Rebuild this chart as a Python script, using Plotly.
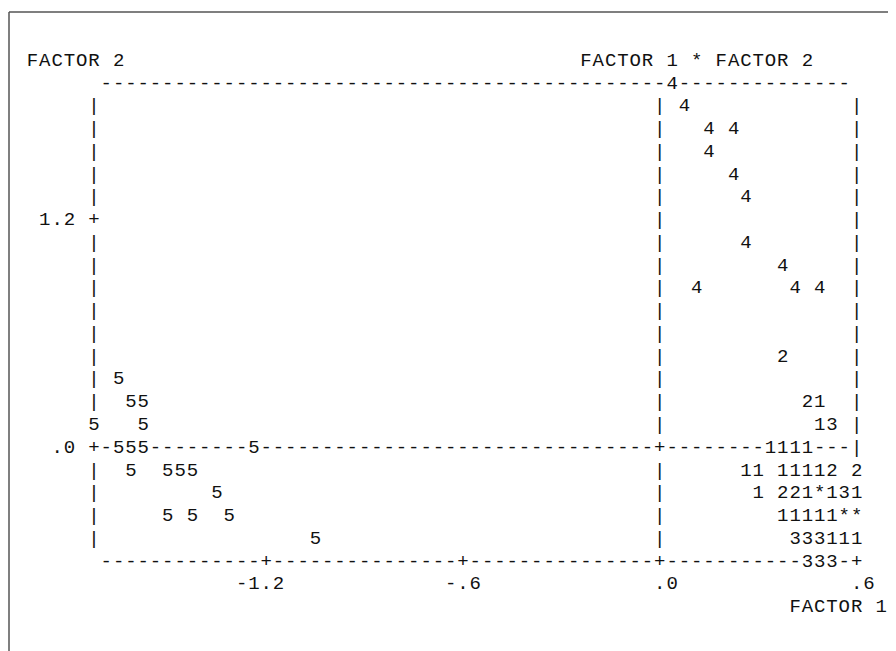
import plotly.graph_objects as go

# ---- data (FACTOR 1 on x, FACTOR 2 on y, plotting symbol) ----
FACTOR1 = [
    0.0375, 0.075, 0.15, 0.225, 0.15, 0.225, 0.2625, 0.2625, 0.375,
    0.1125, 0.4125, 0.4875,
    0.375, 0.45, 0.4875, 0.4875, 0.525,
    0.3375, 0.375, 0.4125, 0.45,
    0.2625, 0.3, 0.375, 0.4125, 0.45, 0.4875, 0.525, 0.6,
    0.3, 0.375, 0.4125, 0.45, 0.4875, 0.525, 0.5625, 0.6,
    0.375, 0.4125, 0.45, 0.4875, 0.525, 0.5625, 0.6,
    0.4125, 0.45, 0.4875, 0.525, 0.5625, 0.6,
    0.45, 0.4875, 0.525,
    -1.65, -1.6125, -1.575, -1.725, -1.575,
    -1.65, -1.6125, -1.575, -1.2375,
    -1.6125, -1.5, -1.4625, -1.425,
    -1.35, -1.5, -1.425, -1.3125, -1.05,
]
FACTOR2 = [
    1.92, 1.80, 1.68, 1.68, 1.56, 1.44, 1.32, 1.08, 0.96,
    0.84, 0.84, 0.84,
    0.48, 0.24, 0.24, 0.12, 0.12,
    0.0, 0.0, 0.0, 0.0,
    -0.12, -0.12, -0.12, -0.12, -0.12, -0.12, -0.12, -0.12,
    -0.24, -0.24, -0.24, -0.24, -0.24, -0.24, -0.24, -0.24,
    -0.36, -0.36, -0.36, -0.36, -0.36, -0.36, -0.36,
    -0.48, -0.48, -0.48, -0.48, -0.48, -0.48,
    -0.60, -0.60, -0.60,
    0.36, 0.24, 0.24, 0.12, 0.12,
    0.0, 0.0, 0.0, 0.0,
    -0.12, -0.12, -0.12, -0.12,
    -0.24, -0.36, -0.36, -0.36, -0.48,
]
SYMBOL = [
    "4", "4", "4", "4", "4", "4", "4", "4", "4",
    "4", "4", "4",
    "2", "2", "1", "1", "3",
    "1", "1", "1", "1",
    "1", "1", "1", "1", "1", "1", "2", "2",
    "1", "2", "2", "1", "*", "1", "3", "1",
    "1", "1", "1", "1", "1", "*", "*",
    "3", "3", "3", "1", "1", "1",
    "3", "3", "3",
    "5", "5", "5", "5", "5",
    "5", "5", "5", "5",
    "5", "5", "5", "5",
    "5", "5", "5", "5", "5",
]

X_TICKS = [-1.2, -0.6, 0.0, 0.6]
Y_TICKS = [0.0, 1.2]
X_LABEL = "FACTOR 1"
Y_LABEL = "FACTOR 2"
TITLE = "FACTOR 1 * FACTOR 2"

# ---- character grid of the line-printer plot ----
COL = 0.0375          # FACTOR 1 units per print column
ROW = 0.12            # FACTOR 2 units per print line
X_MIN, X_MAX = -1.725, 0.6
Y_MIN, Y_MAX = -0.6, 1.92


def col_of(x):
    return int(round((x - X_MIN) / COL))


def row_of(y):
    return int(round(y / ROW))


last_col = col_of(X_MAX)
top_row, bot_row = row_of(Y_MAX), row_of(Y_MIN)
zero_col = col_of(0.0)

frame = {}
for c in range(1, last_col):
    frame[(c, top_row)] = "-"
for c in range(1, last_col + 1):
    frame[(c, bot_row)] = "-"
for t in X_TICKS:
    frame[(col_of(t), bot_row)] = "+"
for r in range(bot_row + 1, top_row):
    frame[(0, r)] = "|"
    frame[(zero_col, r)] = "|"
    frame[(last_col, r)] = "|"
for t in Y_TICKS:
    frame[(0, row_of(t))] = "+"
for c in range(1, last_col):
    frame[(c, 0)] = "-"
frame[(zero_col, 0)] = "+"
frame[(last_col, 0)] = "|"

occupied = {(col_of(x), row_of(y)) for x, y in zip(FACTOR1, FACTOR2)}
for key in occupied:
    frame.pop(key, None)


def fmt(v):
    s = f"{v:.1f}"
    if s.startswith("0."):
        s = s[1:]
    elif s.startswith("-0."):
        s = "-" + s[2:]
    return s


def put(text, c0, r):
    for i, ch in enumerate(text):
        if ch != " ":
            frame[(c0 + i, r)] = ch


for t in Y_TICKS:
    s = fmt(t)
    put(s, -1 - len(s), row_of(t))
for t in X_TICKS:
    s = fmt(t)
    put(s, col_of(t) - s.index("."), bot_row - 1)
put(Y_LABEL, -5, top_row + 1)
put(TITLE, 40, top_row + 1)
put(X_LABEL, 57, bot_row - 2)

fx = [X_MIN + c * COL for (c, r) in frame]
fy = [r * ROW for (c, r) in frame]
ft = list(frame.values())

FONT = dict(family="Liberation Mono, Courier New, monospace", size=19, color="#111111")

fig = go.Figure()
fig.add_trace(go.Scatter(x=fx, y=fy, text=ft, mode="text", textposition="middle center",
                         textfont=FONT, hoverinfo="skip", showlegend=False))
fig.add_trace(go.Scatter(x=FACTOR1, y=FACTOR2, text=SYMBOL, mode="text",
                         textposition="middle center", textfont=FONT,
                         hoverinfo="skip", showlegend=False))

# page geometry (the page body adds an 8 px margin, so the figure is 8 px smaller and
# shifted): print column 0 at 86 px, 12.3 px per column; line 0 at 440 px, 22.76 px per line
W, H = 888, 643
CW, RH = 12.3, 22.76
C0_PX, R0_PX = 86, 440
x_left = X_MIN - C0_PX * COL / CW
x_right = x_left + W * COL / CW
y_top = R0_PX * ROW / RH
y_bottom = y_top - H * ROW / RH

fig.update_layout(
    width=W, height=H,
    margin=dict(l=0, r=0, t=0, b=0),
    paper_bgcolor="white", plot_bgcolor="white",
    xaxis=dict(visible=False, range=[x_left, x_right], fixedrange=True),
    yaxis=dict(visible=False, range=[y_bottom, y_top], fixedrange=True),
    shapes=[
        dict(type="line", xref="paper", yref="paper", x0=1 / W, x1=1, y0=1 - 4 / H, y1=1 - 4 / H,
             line=dict(color="#555555", width=1.5)),
        dict(type="line", xref="paper", yref="paper", x0=1 / W, x1=1 / W, y0=0, y1=1 - 4 / H,
             line=dict(color="#555555", width=1.5)),
    ],
)

fig.write_html("out.html")
